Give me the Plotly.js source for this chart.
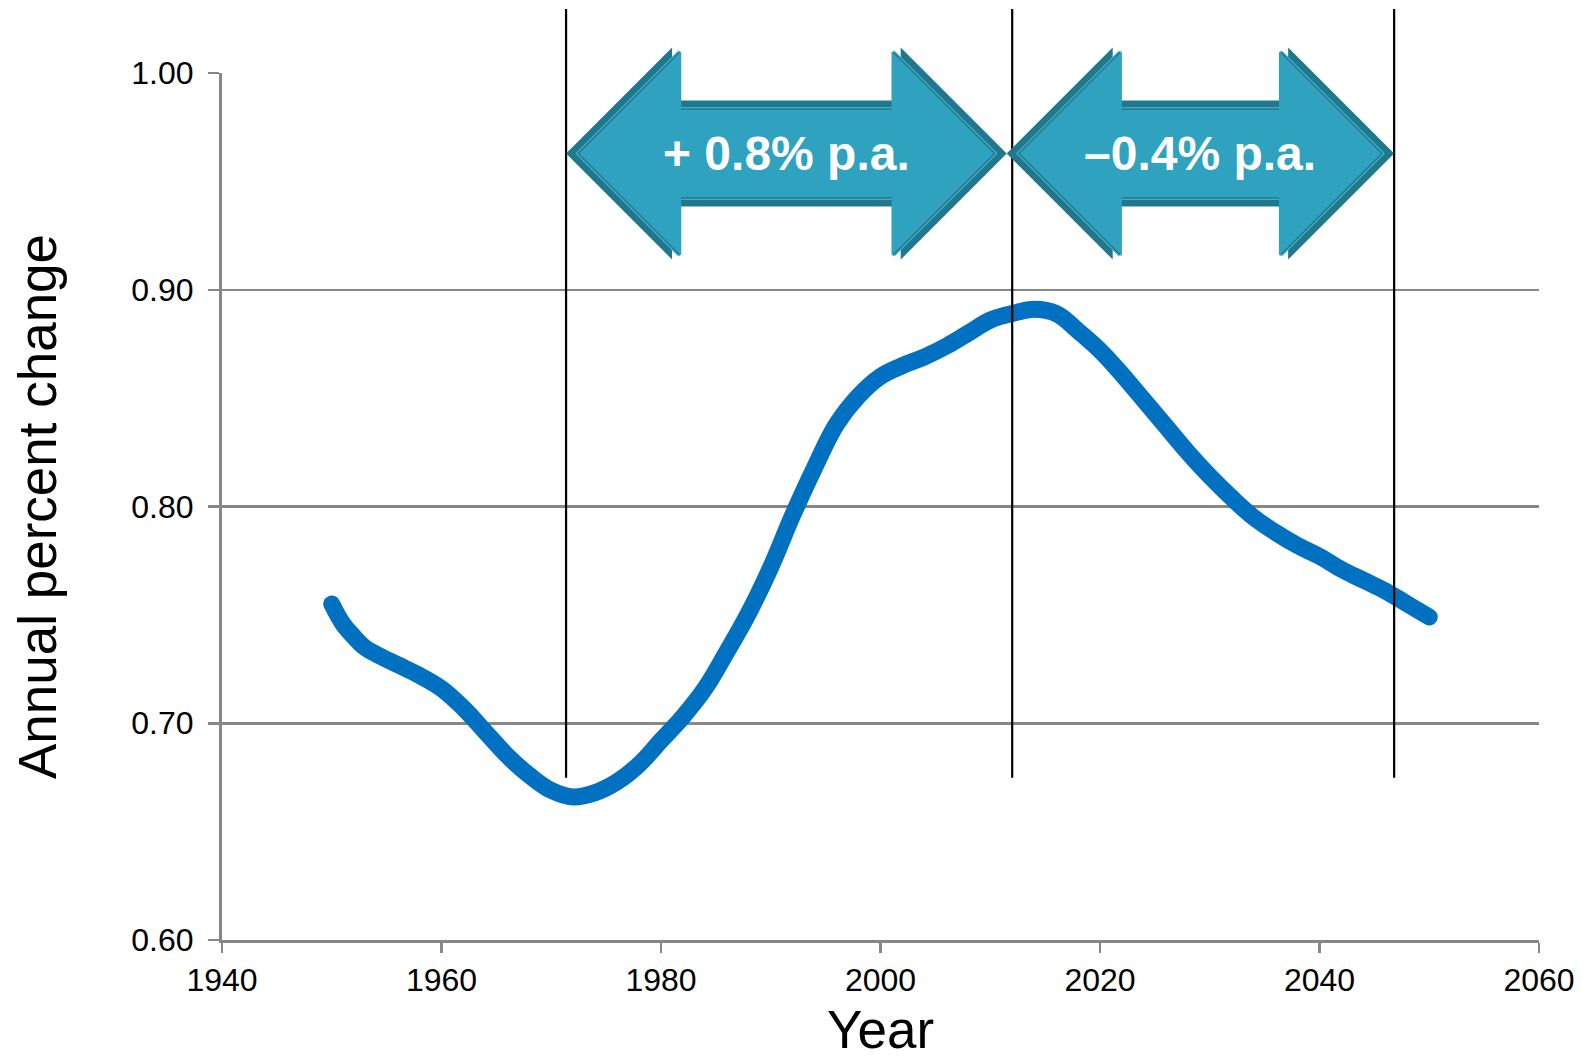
<!DOCTYPE html>
<html>
<head>
<meta charset="utf-8">
<script src="https://cdn.plot.ly/plotly-3.0.1.min.js"></script>
<style>
  html, body { margin: 0; padding: 0; background: #ffffff; }
  #chart { width: 1583px; height: 1059px; }
  .scatterlayer .js-line { stroke-linecap: round; stroke-linejoin: round; }
</style>
</head>
<body>
<div id="chart"></div>
<script>
// Annual percent change, 1950-2050
const years = [1950, 1951, 1952, 1953, 1954, 1956, 1958, 1960, 1962, 1964, 1966, 1968,
               1970, 1972, 1974, 1976, 1978, 1980, 1982, 1984, 1986, 1988, 1990, 1992,
               1994, 1996, 1998, 2000, 2002, 2004, 2006, 2008, 2010, 2012, 2014, 2016,
               2018, 2020, 2022, 2024, 2026, 2028, 2030, 2032, 2034, 2036, 2038, 2040,
               2042, 2044, 2046, 2048, 2050];
const values = [0.755, 0.746, 0.740, 0.735, 0.732, 0.727, 0.722, 0.716, 0.707, 0.696, 0.685, 0.676,
                0.669, 0.666, 0.668, 0.673, 0.681, 0.692, 0.703, 0.716, 0.733, 0.751, 0.772, 0.796,
                0.818, 0.838, 0.851, 0.860, 0.865, 0.869, 0.874, 0.880, 0.886, 0.889, 0.891, 0.889,
                0.881, 0.872, 0.861, 0.849, 0.837, 0.825, 0.814, 0.804, 0.795, 0.788, 0.782, 0.777,
                0.771, 0.766, 0.761, 0.755, 0.749];

// Period dividers and the growth-rate arrows between them
const dividerYears = [1971.35, 2012.0, 2046.8];
const arrowStartYears = [1971.35, 2011.5];
const arrowEndYears = [2011.5, 2046.8];
const arrowLabels = ['+ 0.8% p.a.', '\u20130.4% p.a.'];

// Axis ticks
const xTickVals = [1940, 1960, 1980, 2000, 2020, 2040, 2060];
const xTickText = ['1940', '1960', '1980', '2000', '2020', '2040', '2060'];
const yTickVals = [0.6, 0.7, 0.8, 0.9, 1.0];
const yTickText = ['0.60', '0.70', '0.80', '0.90', '1.00'];

const W = 1583, H = 1059;
const margin = { l: 222, r: 44, t: 73, b: 119 };
const xRange = [1940, 2060];
const yRange = [0.6, 1.0];
const plotW = W - margin.l - margin.r;
const plotH = H - margin.t - margin.b;
const pxPerYear = plotW / (xRange[1] - xRange[0]);

const FONT = 'Liberation Sans, Arial, Helvetica, sans-serif';
const GRID = '#878787';
const TEAL = '#2EA2BF';
const TEAL_DARK = '#1F788C';
const TEAL_LINE = '#47AFC8';

// Arrow geometry in pixels (heads at 45 degrees)
const headLen = 106, headHalf = 106, shaftHalf = 53;
const arrowCenterPaper = (H - margin.b - 153.5) / plotH;

function yrOff(yr, px) { return yr + px / pxPerYear; }
function paperOff(py) { return arrowCenterPaper - py / plotH; } // py measured downward

// Double-headed block arrow polygon, inset by d pixels
function arrowPath(yL, yR, d) {
  const r2 = Math.SQRT2 * d;
  const hh = headHalf + d - r2;
  const sh = shaftHalf - d;
  const pts = [
    [yrOff(yL, r2), paperOff(0)],
    [yrOff(yL, headLen + d), paperOff(-hh)],
    [yrOff(yL, headLen + d), paperOff(-sh)],
    [yrOff(yR, -headLen - d), paperOff(-sh)],
    [yrOff(yR, -headLen - d), paperOff(-hh)],
    [yrOff(yR, -r2), paperOff(0)],
    [yrOff(yR, -headLen - d), paperOff(hh)],
    [yrOff(yR, -headLen - d), paperOff(sh)],
    [yrOff(yL, headLen + d), paperOff(sh)],
    [yrOff(yL, headLen + d), paperOff(hh)]
  ];
  return 'M ' + pts.map(p => p[0].toFixed(4) + ',' + p[1].toFixed(5)).join(' L ') + ' Z';
}

const shapes = [];
dividerYears.forEach(yr => {
  shapes.push({
    type: 'line', xref: 'x', yref: 'paper',
    x0: yr, x1: yr, y0: 0.187, y1: 1.0738,
    line: { color: '#000000', width: 2.2 }, layer: 'above'
  });
});
arrowStartYears.forEach((yL, i) => {
  const yR = arrowEndYears[i];
  const layers = [
    [0, TEAL_DARK], [6.5, TEAL_LINE], [7.8, TEAL_DARK], [9.2, TEAL]
  ];
  layers.forEach(([d, col]) => {
    shapes.push({
      type: 'path', xref: 'x', yref: 'paper', path: arrowPath(yL, yR, d),
      fillcolor: col, line: { width: 0 }, layer: 'above'
    });
  });
});

const annotations = arrowLabels.map((txt, i) => ({
  text: txt, xref: 'x', yref: 'paper',
  x: (arrowStartYears[i] + arrowEndYears[i]) / 2, y: arrowCenterPaper,
  xanchor: 'center', yanchor: 'middle', showarrow: false,
  font: { family: FONT, size: 48, color: '#ffffff', weight: 'bold' }
}));

const trace = {
  x: years, y: values, type: 'scatter', mode: 'lines',
  line: { color: '#0070C0', width: 17, shape: 'spline', smoothing: 1.1 },
  hoverinfo: 'x+y', showlegend: false
};

const layout = {
  width: W, height: H, margin: margin,
  paper_bgcolor: '#ffffff', plot_bgcolor: '#ffffff',
  font: { family: FONT, color: '#000000' },
  showlegend: false,
  xaxis: {
    range: xRange, tickvals: xTickVals, ticktext: xTickText,
    showgrid: false, zeroline: false,
    showline: true, linecolor: GRID, linewidth: 3,
    ticks: 'outside', ticklen: 10, tickwidth: 2.5, tickcolor: GRID,
    tickfont: { family: FONT, size: 32, color: '#000000' },
    title: { text: 'Year', font: { family: FONT, size: 53, color: '#000000' }, standoff: 19 },
    fixedrange: true
  },
  yaxis: {
    range: yRange, tickvals: yTickVals, ticktext: yTickText,
    showgrid: true, gridcolor: GRID, gridwidth: 2.5, zeroline: false,
    showline: true, linecolor: GRID, linewidth: 3,
    ticks: 'outside', ticklen: 11, tickwidth: 2.5, tickcolor: GRID,
    tickfont: { family: FONT, size: 32, color: '#000000' },
    ticklabelstandoff: 8,
    title: { text: 'Annual percent change', font: { family: FONT, size: 53, color: '#000000' }, standoff: 58 },
    fixedrange: true
  },
  shapes: shapes,
  annotations: annotations
};

Plotly.newPlot('chart', [trace], layout, { displayModeBar: false, staticPlot: true });
</script>
</body>
</html>
